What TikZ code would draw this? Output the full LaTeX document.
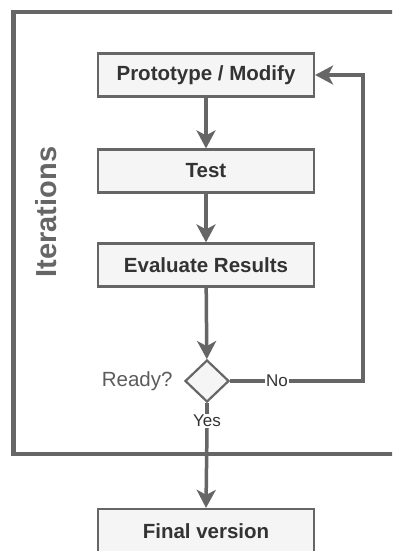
\documentclass[tikz,border=0pt]{standalone}
\usepackage{fontspec}
\setmainfont{Liberation Sans}
\usetikzlibrary{arrows.meta,shapes.geometric}
\definecolor{strk}{HTML}{666666}
\definecolor{boxfill}{HTML}{F5F5F5}
\definecolor{txt}{HTML}{333333}
\tikzset{
  stepbox/.style={draw=strk, line width=2.2pt, fill=boxfill, minimum width=216pt, minimum height=43pt, inner sep=0pt, text=txt, font=\fontsize{20.5}{24}\selectfont\bfseries},
  flow/.style={draw=strk, line width=3.5pt, -{Stealth[length=18pt,width=19pt,inset=5pt]}},
  plainflow/.style={draw=strk, line width=3.5pt},
  lbl/.style={fill=white, inner sep=1pt, text=txt, font=\fontsize{17}{20}\selectfont},
}
\begin{document}
\begin{tikzpicture}[x=1pt,y=-1pt]
\useasboundingbox (0,0) rectangle (392,551);
\clip (0,0) rectangle (392,551);
\fill[white] (0,0) rectangle (392,551);
% outer frame
\draw[draw=strk, line width=4.5pt] (13.5,12) rectangle (420,454);
\node[rotate=90, text=strk, font=\fontsize{29}{32}\selectfont\bfseries] (iter) at (46,212) {Iterations};
% boxes
\node[stepbox] (proto) at (206,75) {Prototype / Modify};
\node[stepbox] (test) at (206,171) {Test};
\node[stepbox] (eval) at (206,265) {Evaluate Results};
\node[stepbox, minimum height=44pt] (final) at (206,531) {Final version};
\node[diamond, draw=strk, line width=2.2pt, fill=boxfill, minimum width=44pt, minimum height=42pt, inner sep=0pt] (dec) at (207,381) {};
\node[anchor=east, text=strk!90!black, font=\fontsize{20.5}{24}\selectfont] (ready) at (176,381) {Ready?};
% labels
\node[lbl] (no) at (277,381) {No};
\node[lbl] (yes) at (207,421) {Yes};
\coordinate (fbr) at (363,381);
\coordinate (fbt) at (363,75);
% connectors
\draw[flow] (proto) -- (test);
\draw[flow] (test) -- (eval);
\draw[flow] (eval) -- (dec);
\draw[plainflow] (dec.east) -- (no.west);
\draw[flow] (no.east) -- (fbr) -- (fbt) -- (proto.east);
\draw[plainflow] (dec.south) -- (yes.north);
\draw[flow] (yes.south) -- (final.north);
\end{tikzpicture}
\end{document}
